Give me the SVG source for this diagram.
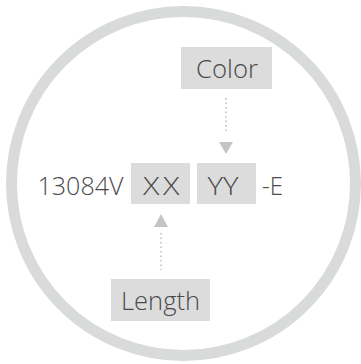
<svg xmlns="http://www.w3.org/2000/svg" width="361" height="364" viewBox="0 0 361 364">
<style>
.box{fill:#dcdcdc}
.t{font-family:"Open Sans","Noto Sans",sans-serif;font-size:25.5px;font-weight:300;fill:#4a4a4a;}
.dot{stroke:#bdbdbd;stroke-width:1.5;stroke-dasharray:1.5 3;fill:none}
.arr{fill:#c4c4c4}
</style>
<rect width="361" height="364" fill="#fff"/>
<circle cx="183.5" cy="183.5" r="172" fill="none" stroke="#d9dbda" stroke-width="11"/>
<g id="color"><rect class="box" x="181" y="47" width="91" height="42"/><text class="t" x="196" y="77.5" textLength="62" lengthAdjust="spacingAndGlyphs">Color</text></g>
<g id="code"><text class="t" x="37.5" y="194.5" textLength="86" lengthAdjust="spacingAndGlyphs">13084V</text></g>
<g id="xx"><rect class="box" x="131" y="163" width="59" height="41"/><text class="t" transform="translate(143 194.5) scale(1.2 1)" letter-spacing="3">XX</text></g>
<g id="yy"><rect class="box" x="197" y="163" width="59" height="41"/><text class="t" x="207.5" y="194.5" textLength="31" lengthAdjust="spacingAndGlyphs">YY</text></g>
<g id="suffix"><text class="t" x="262" y="194.5" textLength="21" lengthAdjust="spacingAndGlyphs">-E</text></g>
<g id="length"><rect class="box" x="111" y="279" width="99" height="42"/><text class="t" x="121" y="309.5" textLength="79" lengthAdjust="spacingAndGlyphs">Length</text></g>
<g id="connectors">
<line class="dot" x1="226" y1="98" x2="226" y2="134"/>
<polygon class="arr" points="219,142 233,142 226,154"/>
<line class="dot" x1="161" y1="233" x2="161" y2="270"/>
<polygon class="arr" points="154,227 168,227 161,214"/>
</g>
</svg>
